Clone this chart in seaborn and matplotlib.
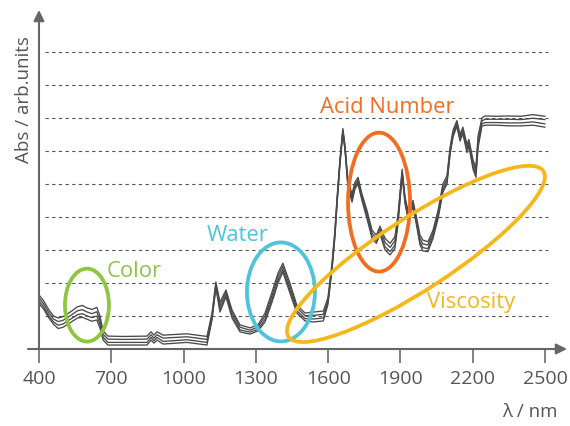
import pandas as pd
import matplotlib
matplotlib.use("Agg")
import matplotlib.pyplot as plt
import matplotlib.patches as mpatches
import matplotlib.transforms as mtransforms
import seaborn as sns

# NIR spectra of 4 oil samples
wavelength = [400, 420, 440, 460, 480, 500, 530, 560, 580, 600, 620, 640, 653, 666, 686,
              750, 848, 865, 877, 890, 915, 1014, 1097, 1118, 1134, 1151, 1176, 1201,
              1234, 1276, 1309, 1338, 1367, 1392, 1412, 1441, 1470, 1504, 1540, 1580,
              1599, 1616, 1628, 1637, 1649, 1661, 1670, 1682, 1699, 1711, 1724, 1740,
              1761, 1782, 1800, 1815, 1836, 1857, 1877, 1890, 1907, 1919, 1931, 1952,
              1969, 1981, 1993, 2014, 2035, 2056, 2076, 2093, 2106, 2118, 2134, 2147,
              2159, 2176, 2184, 2201, 2213, 2222, 2238, 2251, 2300, 2350, 2400, 2450, 2500]

spectrum_1 = [1.64, 1.45, 1.20, 1.00, 0.94, 0.98, 1.12, 1.28, 1.32, 1.24, 1.20, 1.26, 1.00, 0.55, 0.39,
              0.38, 0.39, 0.52, 0.42, 0.52, 0.42, 0.46, 0.38, 1.09, 2.03, 1.42, 1.79, 1.18,
              0.73, 0.64, 0.73, 1.09, 1.73, 2.30, 2.60, 2.00, 1.33, 1.09, 1.12, 1.15,
              1.55, 2.60, 3.60, 4.60, 5.75, 6.68, 6.15, 5.10, 4.70, 5.05, 5.20, 4.70,
              4.20, 3.60, 3.45, 3.72, 3.35, 3.20, 3.40, 4.10, 5.45, 4.60, 4.20, 4.50,
              3.90, 3.45, 3.30, 3.25, 3.60, 4.20, 5.00, 5.25, 6.12, 6.62, 6.92, 6.50,
              6.72, 6.20, 6.35, 5.72, 5.50, 6.45, 7.00, 7.06, 7.05, 7.06, 7.05, 7.10, 7.05]

spectrum_2 = [1.55, 1.36, 1.11, 0.91, 0.83, 0.87, 1.01, 1.16, 1.19, 1.12, 1.07, 1.13, 0.87, 0.45, 0.30,
              0.29, 0.30, 0.43, 0.33, 0.43, 0.33, 0.37, 0.29, 1.02, 1.97, 1.32, 1.72, 1.10,
              0.66, 0.57, 0.67, 1.00, 1.62, 2.20, 2.51, 1.90, 1.25, 1.01, 1.02, 1.05,
              1.48, 2.53, 3.53, 4.53, 5.70, 6.63, 6.10, 5.03, 4.61, 4.98, 5.13, 4.63,
              4.11, 3.51, 3.36, 3.64, 3.23, 3.08, 3.28, 4.00, 5.38, 4.53, 4.11, 4.43,
              3.81, 3.35, 3.18, 3.15, 3.51, 4.11, 4.91, 5.16, 6.04, 6.55, 6.86, 6.43,
              6.65, 6.11, 6.28, 5.63, 5.40, 6.33, 6.91, 6.96, 6.96, 6.96, 6.95, 6.99, 6.95]

spectrum_3 = [1.46, 1.27, 1.02, 0.82, 0.72, 0.76, 0.90, 1.04, 1.07, 1.00, 0.95, 1.00, 0.75, 0.36, 0.20,
              0.20, 0.20, 0.35, 0.25, 0.35, 0.23, 0.28, 0.20, 0.94, 1.90, 1.21, 1.64, 1.01,
              0.58, 0.51, 0.60, 0.90, 1.51, 2.09, 2.41, 1.79, 1.16, 0.92, 0.91, 0.94,
              1.41, 2.46, 3.46, 4.46, 5.65, 6.59, 6.05, 4.96, 4.52, 4.91, 5.06, 4.56,
              4.02, 3.42, 3.27, 3.55, 3.10, 2.95, 3.15, 3.89, 5.31, 4.46, 4.02, 4.36,
              3.72, 3.24, 3.07, 3.04, 3.42, 4.02, 4.82, 5.07, 5.97, 6.48, 6.80, 6.36,
              6.58, 6.02, 6.21, 5.53, 5.29, 6.21, 6.82, 6.86, 6.86, 6.85, 6.85, 6.88, 6.82]

spectrum_4 = [1.38, 1.20, 0.95, 0.75, 0.62, 0.66, 0.80, 0.94, 0.96, 0.90, 0.84, 0.88, 0.64, 0.27, 0.12,
              0.12, 0.12, 0.27, 0.18, 0.27, 0.15, 0.20, 0.12, 0.88, 1.85, 1.12, 1.58, 0.94,
              0.52, 0.45, 0.55, 0.82, 1.42, 2.00, 2.33, 1.70, 1.09, 0.85, 0.82, 0.85,
              1.35, 2.40, 3.40, 4.40, 5.60, 6.55, 6.00, 4.90, 4.45, 4.85, 5.00, 4.50,
              3.95, 3.35, 3.20, 3.48, 3.00, 2.85, 3.05, 3.80, 5.25, 4.40, 3.95, 4.30,
              3.65, 3.15, 2.97, 2.95, 3.35, 3.95, 4.75, 5.00, 5.90, 6.42, 6.75, 6.30,
              6.52, 5.95, 6.15, 5.45, 5.20, 6.10, 6.75, 6.78, 6.78, 6.76, 6.76, 6.78, 6.72]

x_ticks = [400, 700, 1000, 1300, 1600, 1900, 2200, 2500]
grid_levels = [1, 2, 3, 4, 5, 6, 7, 8, 9]
region_labels = ["Color", "Water", "Acid Number", "Viscosity"]
region_colors = ["#8dc63f", "#4fc3d9", "#f26d21", "#f5b71b"]


def build_frame():
    frames = []
    for i, spec in enumerate([spectrum_1, spectrum_2, spectrum_3, spectrum_4]):
        frames.append(pd.DataFrame({"wavelength": wavelength,
                                    "absorbance": spec,
                                    "sample": f"s{i + 1}"}))
    return pd.concat(frames, ignore_index=True)


def main():
    sns.set_style("white")
    plt.rcParams["font.family"] = ["Open Sans", "DejaVu Sans"]

    df = build_frame()

    fig = plt.figure(figsize=(5.7, 4.26), dpi=100)
    ax = fig.add_axes([28 / 570, 77 / 426, 539 / 570, 339 / 426])
    ax.set_xlim(354.4, 2591)
    ax.set_ylim(0, 10.27)

    # dashed guide lines
    ax.hlines(grid_levels, 425, 2512, colors="#555555", linestyles=(0, (3, 3)),
              linewidth=0.8, zorder=1)

    sns.lineplot(data=df, x="wavelength", y="absorbance", hue="sample",
                 palette=["#4a4a4a"] * 4, estimator=None, sort=False,
                 legend=False, linewidth=0.95, ax=ax, zorder=2)

    # axes with arrows
    for s in ax.spines.values():
        s.set_visible(False)
    ax.annotate("", xy=(2591, 0), xytext=(354.4, 0),
                arrowprops=dict(arrowstyle="-|>", color="#666666", lw=1.5,
                                mutation_scale=16, shrinkA=0, shrinkB=0),
                annotation_clip=False)
    ax.annotate("", xy=(400, 10.27), xytext=(400, 0),
                arrowprops=dict(arrowstyle="-|>", color="#666666", lw=1.5,
                                mutation_scale=16, shrinkA=0, shrinkB=0),
                annotation_clip=False)

    ax.set_xticks(x_ticks)
    ax.set_xticklabels([str(t) for t in x_ticks])
    ax.set_yticks([])
    ax.tick_params(axis="x", direction="out", length=10, width=1.3,
                   color="#777777", labelcolor="#555555", labelsize=14, pad=5,
                   bottom=True)
    ax.set_xlabel("")
    ax.set_ylabel("")

    # highlighted regions (centre in data units, size in pixels)
    def ring(cx, cy, w, h, angle, color):
        trans = fig.dpi_scale_trans + mtransforms.ScaledTranslation(cx, cy, ax.transData)
        e = mpatches.Ellipse((0, 0), w / 100, h / 100, angle=angle, transform=trans,
                             fill=False, edgecolor=color, linewidth=2.7, zorder=3,
                             clip_on=False)
        ax.add_patch(e)

    ring(599, 1.33, 44, 73, 0, region_colors[0])
    ring(1404, 1.73, 68, 99, 0, region_colors[1])
    ring(1811, 4.45, 62, 139, 0, region_colors[2])
    ring(1964, 2.88, 304, 72, 33, region_colors[3])

    label_size = 15.8
    ax.text(794, 2.36, region_labels[0], color=region_colors[0], fontsize=label_size,
            ha="center", va="center")
    ax.text(1222, 3.45, region_labels[1], color=region_colors[1], fontsize=label_size,
            ha="center", va="center")
    ax.text(1844, 7.33, region_labels[2], color=region_colors[2], fontsize=label_size,
            ha="center", va="center")
    ax.text(2193, 1.42, region_labels[3], color=region_colors[3], fontsize=label_size,
            ha="center", va="center")

    fig.text(24 / 570, 1 - 100 / 426, "Abs / arb.units", rotation=90,
             ha="center", va="center", fontsize=13.5, color="#555555")
    fig.text(530 / 570, 1 - 412 / 426, "λ / nm", ha="center", va="center",
             fontsize=13.5, color="#555555")

    fig.savefig("out.png", dpi=100)


if __name__ == "__main__":
    main()
